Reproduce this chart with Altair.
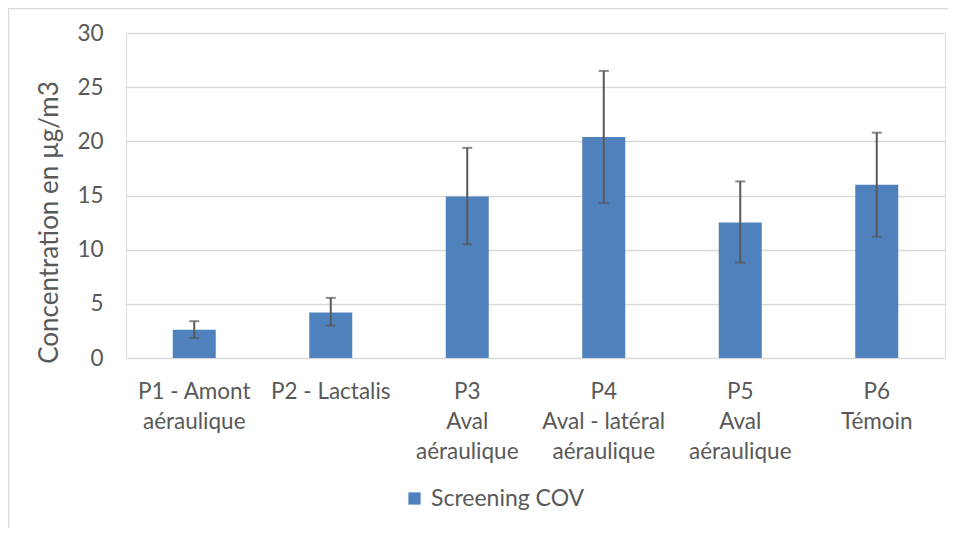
import altair as alt
import pandas as pd

categories = [
    "P1 - Amont\naéraulique",
    "P2 - Lactalis",
    "P3\nAval\naéraulique",
    "P4\nAval - latéral\naéraulique",
    "P5\nAval\naéraulique",
    "P6\nTémoin",
]
values = [2.6, 4.2, 14.9, 20.4, 12.5, 16.0]
err_low = [1.85, 3.0, 10.5, 14.3, 8.8, 11.2]
err_high = [3.4, 5.55, 19.4, 26.5, 16.3, 20.8]
series_name = "Screening COV"
y_ticks = [0, 5, 10, 15, 20, 25, 30]

FONT = "Lato"
TXT = "#595959"
GRID = "#d9d9d9"
BAR = "#4F81BD"

df = pd.DataFrame({
    "cat": categories,
    "value": values,
    "lo": err_low,
    "hi": err_high,
    "series": [series_name] * len(categories),
})

x_enc = alt.X(
    "cat:N",
    sort=categories,
    scale=alt.Scale(paddingInner=0.685, paddingOuter=0.3425),
    axis=alt.Axis(
        title=None,
        labelExpr="split(datum.label, '\\n')",
        labelAngle=0,
        labelFont=FONT,
        labelFontSize=22.5,
        labelColor=TXT,
        labelPadding=22,
        labelLineHeight=30,
        labelLimit=300,
        domain=False,
        ticks=False,
    ),
)

y_enc = alt.Y(
    "value:Q",
    scale=alt.Scale(domain=[0, 30]),
    axis=alt.Axis(
        values=y_ticks,
        title="Concentration en µg/m3",
        titleFont=FONT,
        titleFontSize=26,
        titleFontWeight="normal",
        titleColor=TXT,
        titleX=-77,
        titleY=189,
        titleBaseline="middle",
        labelFont=FONT,
        labelFontSize=22.5,
        labelColor=TXT,
        labelPadding=23,
        grid=True,
        gridColor=GRID,
        gridWidth=1.5,
        domain=False,
        ticks=False,
    ),
)

base = alt.Chart(df)

bars = base.mark_bar().encode(
    x=x_enc,
    y=y_enc,
    color=alt.Color(
        "series:N",
        scale=alt.Scale(range=[BAR]),
        legend=alt.Legend(
            title=None,
            orient="none",
            legendX=277,
            legendY=454,
            symbolType="square",
            symbolSize=150,
            symbolStrokeWidth=0,
            symbolOpacity=1,
            labelFont=FONT,
            labelFontSize=23,
            labelColor=TXT,
            labelOffset=5,
        ),
    ),
)

err_rule = base.mark_rule(color="#595959", strokeWidth=2).encode(
    x=alt.X("cat:N", sort=categories),
    y="lo:Q",
    y2="hi:Q",
)
cap_hi = base.mark_tick(color="#595959", thickness=2, size=10).encode(
    x=alt.X("cat:N", sort=categories),
    y="hi:Q",
)
cap_lo = base.mark_tick(color="#595959", thickness=2, size=10).encode(
    x=alt.X("cat:N", sort=categories),
    y="lo:Q",
)

frame_df = pd.DataFrame({"k": [0]})
frame_left = alt.Chart(frame_df).mark_rule(color=GRID, strokeWidth=1.5).encode(
    x=alt.value(-117.5), y=alt.value(-24.5), y2=alt.value(520)
)
frame_top = alt.Chart(frame_df).mark_rule(color=GRID, strokeWidth=1.5).encode(
    x=alt.value(-117.5), x2=alt.value(825), y=alt.value(-24.5)
)

chart = alt.layer(bars, err_rule, cap_hi, cap_lo, frame_left, frame_top).properties(
    width=819,
    height=325,
    padding={"left": 118, "top": 25, "right": 3, "bottom": 170},
    autosize=alt.AutoSizeParams(type="none"),
).configure_view(stroke=None).configure(background="white")

chart.save("out.html", embed_options={"renderer": "svg", "actions": False})
